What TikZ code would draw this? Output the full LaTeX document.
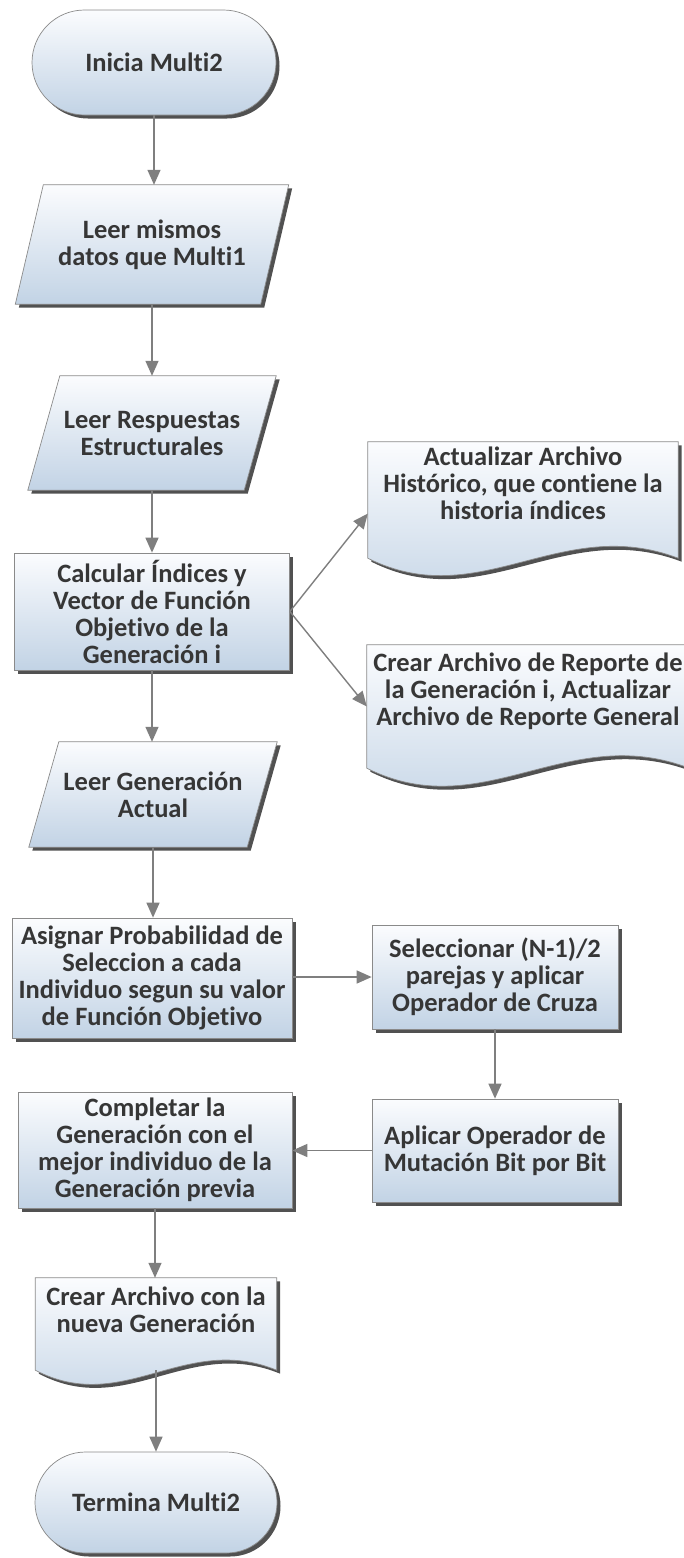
\documentclass[tikz,border=0pt]{standalone}
\usepackage{fontspec}
\setmainfont{Carlito}[Ligatures=NoCommon]
\usetikzlibrary{shapes.misc,shadows,arrows.meta,backgrounds,calc}
\definecolor{txt}{HTML}{363636}
\definecolor{edgec}{HTML}{8A8A8A}
\definecolor{boxtop}{HTML}{FBFCFE}
\definecolor{boxmid}{HTML}{E4ECF4}
\definecolor{boxbot}{HTML}{C2D3E5}
\definecolor{arr}{HTML}{7F7F7F}
\newcommand\doctext[2]{\raisebox{#1}[\height][\depth]{\begin{tabular}{@{}c@{}}#2\end{tabular}}}
\tikzset{
  fillbox/.style={draw=edgec, line width=0.7pt, top color=boxtop, middle color=boxmid, bottom color=boxbot,
    drop shadow={shadow xshift=3.5pt, shadow yshift=-3.5pt, fill=black!80, opacity=0.85}},
  txtfont/.style={font=\fontsize{26.5}{27}\selectfont\bfseries, text=txt, align=center, inner sep=0pt},
  term/.style={fillbox, txtfont, rounded rectangle},
  proc/.style={fillbox, txtfont, rectangle},
  io/.style={txtfont, rectangle, draw=none},
  docnode/.style={txtfont, rectangle, draw=none},
  docshape/.style={fillbox},
  arrow/.style={draw=arr, line width=1.4pt, -{Triangle[length=15pt,width=13pt]}}
}
\newcommand\parashape[2]{\path[fillbox] ($(#1.north west)+(#2,0)$) -- (#1.north east) -- ($(#1.south east)+(-#2,0)$) -- (#1.south west) -- cycle;}
\begin{document}
\begin{tikzpicture}[x=1pt,y=-1pt]
\useasboundingbox (0,0) rectangle (684,1558);
\clip (0,0) rectangle (684,1558);
% nodes
\node[term, minimum width=244pt, minimum height=105pt] (start) at (154,62.5) {Inicia Multi2};
\node[io, minimum width=273pt, minimum height=119pt] (p1) at (152,244.5) {Leer mismos\\datos que Multi1};
\node[io, minimum width=248pt, minimum height=114pt] (p2) at (152,433) {Leer Respuestas\\Estructurales};
\node[proc, minimum width=275pt, minimum height=117pt] (r1) at (152,611.5) {Calcular Índices y\\Vector de Función\\Objetivo de la\\Generación i};
\node[docnode, minimum width=310pt, minimum height=116pt] (d1) at (523,500) {\doctext{13pt}{Actualizar Archivo\\Histórico, que contiene la\\historia índices}};
\node[docnode, minimum width=322pt, minimum height=123pt] (d2) at (528,706.5) {\doctext{13.5pt}{Crear Archivo de Reporte de\\la Generación i, Actualizar\\Archivo de Reporte General}};
\node[io, minimum width=248pt, minimum height=105pt] (p3) at (153,794.5) {Leer Generación\\Actual};
\node[proc, minimum width=280pt, minimum height=120pt] (r2) at (152,978) {Asignar Probabilidad de\\Seleccion a cada\\Individuo segun su valor\\de Función Objetivo};
\node[proc, minimum width=246pt, minimum height=104pt] (r3) at (495,977) {Seleccionar (N-1)/2\\parejas y aplicar\\Operador de Cruza};
\node[proc, minimum width=246pt, minimum height=103pt] (r4) at (495,1150.5) {Aplicar Operador de\\Mutación Bit por Bit};
\node[proc, minimum width=274pt, minimum height=116pt] (r5) at (155,1150) {Completar la\\Generación con el\\mejor individuo de la\\Generación previa};
\node[docnode, minimum width=241pt, minimum height=92pt] (d3) at (156,1324) {\doctext{10.5pt}{Crear Archivo con la\\nueva Generación}};
\node[term, minimum width=242pt, minimum height=101pt] (end) at (156,1502.5) {Termina Multi2};
% parallelogram and document shapes
\begin{scope}[on background layer]
\parashape{p1}{28}
\parashape{p2}{32}
\parashape{p3}{30}
\path[docshape] (d1.north west) -- (d1.north east) -- (d1.south east)
  .. controls ($(d1.south east)+(-118,-45)$) and ($(d1.south west)+(112,56)$) .. (d1.south west) -- cycle;
\path[docshape] (d2.north west) -- (d2.north east) -- (d2.south east)
  .. controls ($(d2.south east)+(-122,-47)$) and ($(d2.south west)+(116,58)$) .. (d2.south west) -- cycle;
\path[docshape] (d3.north west) -- (d3.north east) -- (d3.south east)
  .. controls ($(d3.south east)+(-92,-38)$) and ($(d3.south west)+(88,46)$) .. (d3.south west) -- cycle;
\end{scope}
% connectors
\draw[arrow] (start.south) -- (start.south |- p1.north);
\draw[arrow] (p1.south) -- (p1.south |- p2.north);
\draw[arrow] (p2.south) -- (p2.south |- r1.north);
\draw[arrow] (r1.east) -- (d1.185);
\draw[arrow] (r1.east) -- (d2.west);
\draw[arrow] (r1.south) -- (r1.south |- p3.north);
\draw[arrow] (p3.south) -- (p3.south |- r2.north);
\draw[arrow] (r2.east |- r3.west) -- (r3.west);
\draw[arrow] (r3.south) -- (r3.south |- r4.north);
\draw[arrow] (r4.west) -- (r4.west -| r5.east);
\draw[arrow] (r5.south) -- (r5.south |- d3.north);
\draw[arrow] (d3.south) -- (d3.south |- end.north);
\end{tikzpicture}
\end{document}
